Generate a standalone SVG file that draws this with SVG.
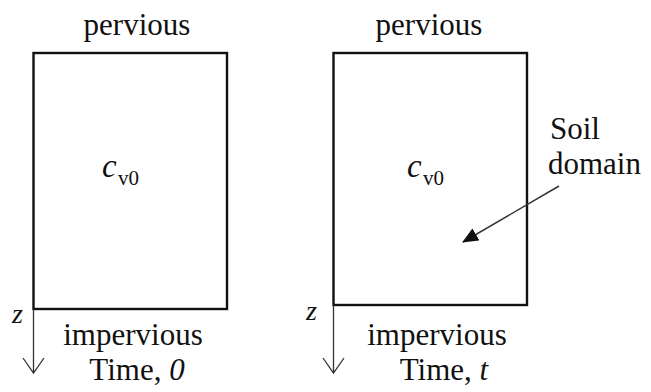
<svg xmlns="http://www.w3.org/2000/svg" width="651" height="392" viewBox="0 0 651 392">
<style>
text{font-family:"Liberation Serif","Times New Roman",serif;fill:#111;}
.lbl{font-size:31px;text-anchor:middle;}
.box{fill:#fff;stroke:#111;stroke-width:2.4;}
.axis{fill:none;stroke:#333;stroke-width:1.3;}
.it{font-style:italic;}
</style>
<defs>
<marker id="tri" markerWidth="16" markerHeight="14" refX="15" refY="7" orient="auto" markerUnits="userSpaceOnUse">
<path d="M0,0 L16,7 L0,14 Z" fill="#111"/>
</marker>
</defs>
<rect width="651" height="392" fill="#fff"/>
<g id="domain-time0">
<rect class="box" x="33.5" y="53" width="193.5" height="256"/>
<text class="lbl" x="137" y="35">pervious</text>
<text class="lbl" x="133" y="345">impervious</text>
<text class="lbl" x="137" y="380">Time, <tspan class="it">0</tspan></text>
<text x="102" y="177" class="it" font-size="33">c</text><text x="118" y="185" font-size="21">v0</text>
<text x="12" y="323" class="it" font-size="28">z</text>
</g>
<g id="domain-timet">
<rect class="box" x="333.5" y="53" width="193.5" height="252"/>
<text class="lbl" x="429" y="35">pervious</text>
<text class="lbl" x="437" y="345">impervious</text>
<text class="lbl" x="444" y="380">Time, <tspan class="it">t</tspan></text>
<text x="407" y="177" class="it" font-size="33">c</text><text x="423" y="185" font-size="21">v0</text>
<text x="306" y="320" class="it" font-size="28">z</text>
</g>
<g id="soil-label">
<text x="550" y="139" font-size="31">Soil</text>
<text x="548" y="174" font-size="31">domain</text>
</g>
<g id="connectors">
<path class="axis" d="M33.5,309 V373 M23,358 L33.5,373 L44,358"/>
<path class="axis" d="M333.5,305 V373 M323,358 L333.5,373 L344,358"/>
<line x1="559" y1="186" x2="463" y2="242" stroke="#333" stroke-width="1.5" marker-end="url(#tri)"/>
</g>
</svg>
